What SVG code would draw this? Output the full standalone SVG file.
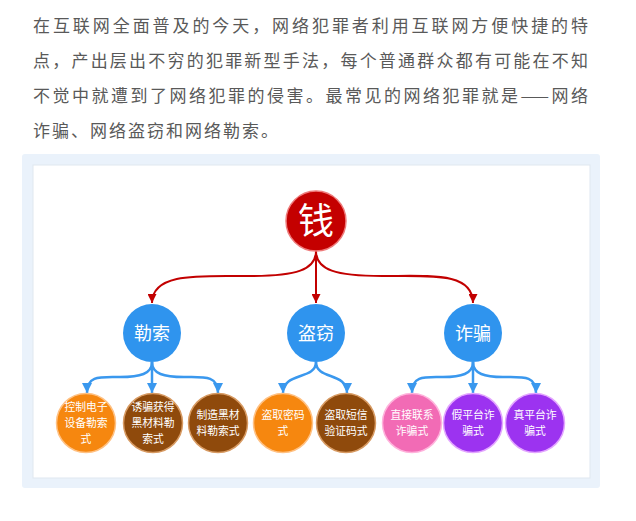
<svg xmlns="http://www.w3.org/2000/svg" width="636" height="521" viewBox="0 0 636 521">
<style>
.p{font-family:"Noto Sans CJK SC","Noto Sans",sans-serif;font-size:17px;fill:#595959}
.c{font-family:"Noto Sans CJK SC","Noto Sans",sans-serif;fill:#fff;text-anchor:middle}
.t1{font-size:36px}
.t2{font-size:18px}
.t3{font-size:10.8px}
.ra{fill:none;stroke:#c20000;stroke-width:2}
.ba{fill:none;stroke:#3a98ee;stroke-width:2.5}
.or{fill:#f6870f;stroke:#ffc183;stroke-width:1.5}
.br{fill:#8f4a0c;stroke:#d79a62;stroke-width:1.5}
.pk{fill:#f26bb5;stroke:#ffb3dc;stroke-width:1.5}
.pu{fill:#9c33f0;stroke:#e3a6ff;stroke-width:1.5}
.bl{fill:#2f94ee}
</style>
<defs>
<marker id="mr" viewBox="0 0 10 10" refX="10" refY="5" markerWidth="10" markerHeight="9" markerUnits="userSpaceOnUse" orient="auto"><path d="M0,0L10,5L0,10z" fill="#c20000"/></marker>
<marker id="mb" viewBox="0 0 10 10" refX="10" refY="5" markerWidth="10" markerHeight="11" markerUnits="userSpaceOnUse" orient="auto"><path d="M0,0L10,5L0,10z" fill="#3a98ee"/></marker>
</defs>
<rect width="636" height="521" fill="#fff"/>
<g id="intro">
<text class="p" x="33" y="32" textLength="555" lengthAdjust="spacing">在互联网全面普及的今天，网络犯罪者利用互联网方便快捷的特</text>
<text class="p" x="33" y="67" textLength="555" lengthAdjust="spacing">点，产出层出不穷的犯罪新型手法，每个普通群众都有可能在不知</text>
<text class="p" x="33" y="102" textLength="555" lengthAdjust="spacing">不觉中就遭到了网络犯罪的侵害。最常见的网络犯罪就是——网络</text>
<text class="p" x="33" y="137" letter-spacing="2">诈骗、网络盗窃和网络勒索。</text>
</g>
<g id="panel">
<rect x="22" y="154" width="578" height="334" rx="3" fill="#eaf2fb"/>
<rect x="33" y="165" width="557" height="313" fill="#fff" stroke="#dfe7f0" stroke-width="1"/>
</g>
<g id="connectors">
<path class="ra" marker-end="url(#mr)" d="M316,251 C316,270 296,276 250,276 C200,276 152,272 152,303"/>
<path class="ra" marker-end="url(#mr)" d="M316,251 L316,303"/>
<path class="ra" marker-end="url(#mr)" d="M316,251 C316,270 336,276 382,276 C432,276 473,272 473,303"/>
<path class="ba" marker-end="url(#mb)" d="M152,362 C152,374 140,377 120,377 C100,377 87,375 87,393"/>
<path class="ba" marker-end="url(#mb)" d="M152,362 L152,393"/>
<path class="ba" marker-end="url(#mb)" d="M152,362 C152,374 164,377 184,377 C204,377 218,375 218,393"/>
<path class="ba" marker-end="url(#mb)" d="M316,362 C316,380 283,372 283,393"/>
<path class="ba" marker-end="url(#mb)" d="M316,362 C316,380 347,372 347,393"/>
<path class="ba" marker-end="url(#mb)" d="M473,362 C473,374 461,377 443,377 C425,377 412,375 412,393"/>
<path class="ba" marker-end="url(#mb)" d="M473,362 L473,393"/>
<path class="ba" marker-end="url(#mb)" d="M473,362 C473,374 485,377 503,377 C523,377 536,375 536,393"/>
</g>
<g id="root"><circle cx="316" cy="221" r="30" fill="#c40000" stroke="#ee7b7b" stroke-width="1.5"/><text class="c t1" x="316" y="234">钱</text></g>
<g id="lesuo"><circle class="bl" cx="152" cy="333" r="29"/><text class="c t2" x="152" y="340">勒索</text></g>
<g id="daoqie"><circle class="bl" cx="316" cy="333" r="29"/><text class="c t2" x="316" y="340">盗窃</text></g>
<g id="zhapian"><circle class="bl" cx="473" cy="333" r="29"/><text class="c t2" x="473" y="340">诈骗</text></g>
<g id="n1"><circle class="or" cx="86" cy="423" r="29.5"/><text class="c t3" x="86" y="411.4">控制电子<tspan x="86" dy="15.7">设备勒索</tspan><tspan x="86" dy="15.7">式</tspan></text></g>
<g id="n2"><circle class="br" cx="153" cy="423" r="29.5"/><text class="c t3" x="153" y="411.4">诱骗获得<tspan x="153" dy="15.7">黑材料勒</tspan><tspan x="153" dy="15.7">索式</tspan></text></g>
<g id="n3"><circle class="br" cx="218" cy="423" r="29.5"/><text class="c t3" x="218" y="419.3">制造黑材<tspan x="218" dy="15.7">料勒索式</tspan></text></g>
<g id="n4"><circle class="or" cx="283" cy="423" r="29.5"/><text class="c t3" x="283" y="419.3">盗取密码<tspan x="283" dy="15.7">式</tspan></text></g>
<g id="n5"><circle class="br" cx="346" cy="423" r="29.5"/><text class="c t3" x="346" y="419.3">盗取短信<tspan x="346" dy="15.7">验证码式</tspan></text></g>
<g id="n6"><circle class="pk" cx="412" cy="423" r="29.5"/><text class="c t3" x="412" y="419.3">直接联系<tspan x="412" dy="15.7">诈骗式</tspan></text></g>
<g id="n7"><circle class="pu" cx="473" cy="423" r="29.5"/><text class="c t3" x="473" y="419.3">假平台诈<tspan x="473" dy="15.7">骗式</tspan></text></g>
<g id="n8"><circle class="pu" cx="535" cy="423" r="29.5"/><text class="c t3" x="535" y="419.3">真平台诈<tspan x="535" dy="15.7">骗式</tspan></text></g>
</svg>
